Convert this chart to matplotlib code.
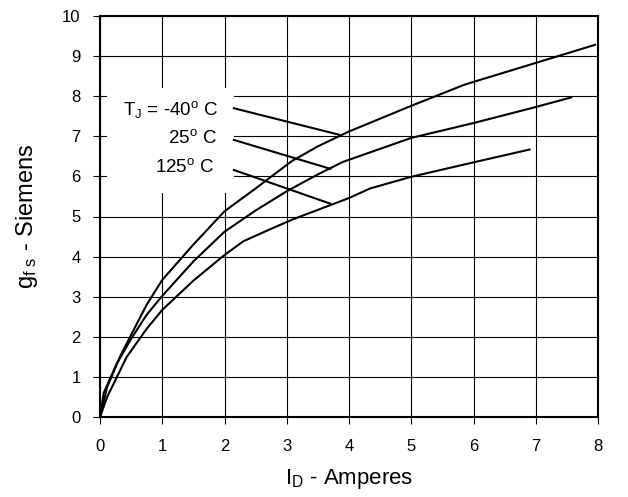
import matplotlib
matplotlib.use("Agg")
import matplotlib.pyplot as plt
from matplotlib.patches import Rectangle

plt.rcParams['font.family'] = ['Liberation Sans', 'DejaVu Sans']
plt.rcParams['mathtext.fontset'] = 'custom'
plt.rcParams['mathtext.rm'] = 'Liberation Sans'
plt.rcParams['mathtext.it'] = 'Liberation Sans'

# Data
x_m40 = [0, 0.115, 0.32, 0.5, 0.75, 1.0, 1.5, 2.0, 2.5, 3.08, 3.5, 4.0, 5.0, 5.86, 7.0, 7.95]
y_m40 = [0, 0.75, 1.50, 2.05, 2.80, 3.42, 4.30, 5.13, 5.70, 6.38, 6.75, 7.12, 7.76, 8.29, 8.83, 9.28]

x_25 = [0, 0.06, 0.27, 0.5, 0.75, 1.0, 1.5, 2.0, 2.5, 3.0, 3.5, 3.9, 5.0, 6.0, 7.0, 7.57]
y_25 = [0, 0.60, 1.33, 1.95, 2.55, 3.02, 3.88, 4.62, 5.15, 5.63, 6.05, 6.36, 6.96, 7.33, 7.73, 7.97]

x_125 = [0, 0.115, 0.43, 0.75, 1.0, 1.5, 2.0, 2.3, 2.7, 3.1, 4.0, 4.34, 5.0, 6.0, 6.9]
y_125 = [0, 0.50, 1.50, 2.20, 2.67, 3.40, 4.04, 4.38, 4.66, 4.93, 5.46, 5.70, 5.99, 6.35, 6.67]

labels = [r'$\mathregular{T_J}$ = -40$\mathregular{^o}$ C', r'25$\mathregular{^o}$ C', r'125$\mathregular{^o}$ C']
label_x = [1.90, 1.88, 1.83]
label_y = [7.68, 6.96, 6.23]
leader_x0 = [2.15, 2.15, 2.15]
leader_y0 = [7.70, 6.91, 6.16]
leader_x1 = [3.84, 3.70, 3.70]
leader_y1 = [7.04, 6.19, 5.32]

xticks = list(range(0, 9))
yticks = list(range(0, 11))

fig = plt.figure(figsize=(6.28, 4.97), dpi=100)
ax = fig.add_axes([100/628, 80/497, 498/628, 401/497])

ax.set_xlim(0, 8)
ax.set_ylim(0, 10)
ax.set_xticks(xticks)
ax.set_yticks(yticks)
ax.grid(True, color='black', linewidth=0.8, zorder=1)
ax.set_axisbelow(True)

# white box behind labels
ax.add_patch(Rectangle((0.11, 5.59), 2.04, 2.61, facecolor='white', edgecolor='none', zorder=1.5))

for xs, ys in [(x_m40, y_m40), (x_25, y_25), (x_125, y_125)]:
    ax.plot(xs, ys, color='black', linewidth=1.5, zorder=3)

for i in range(3):
    ax.plot([leader_x0[i], leader_x1[i]], [leader_y0[i], leader_y1[i]], color='black', linewidth=1.5, zorder=3)
    ax.text(label_x[i], label_y[i], labels[i], ha='right', va='center', fontsize=13.5, zorder=4)

for s in ax.spines.values():
    s.set_linewidth(1.5)

ax.tick_params(axis='both', direction='out', length=5, width=0.8, labelsize=12, colors='black')
ax.tick_params(axis='y', pad=9)
ax.tick_params(axis='x', pad=11)

ax.set_xlabel(r'$\mathregular{I_D}$ - Amperes', fontsize=16, labelpad=9)
ax.set_ylabel(r'$\mathregular{g_{f\ s}}$ - Siemens', fontsize=17, labelpad=16)

fig.savefig('out.png', dpi=100)
